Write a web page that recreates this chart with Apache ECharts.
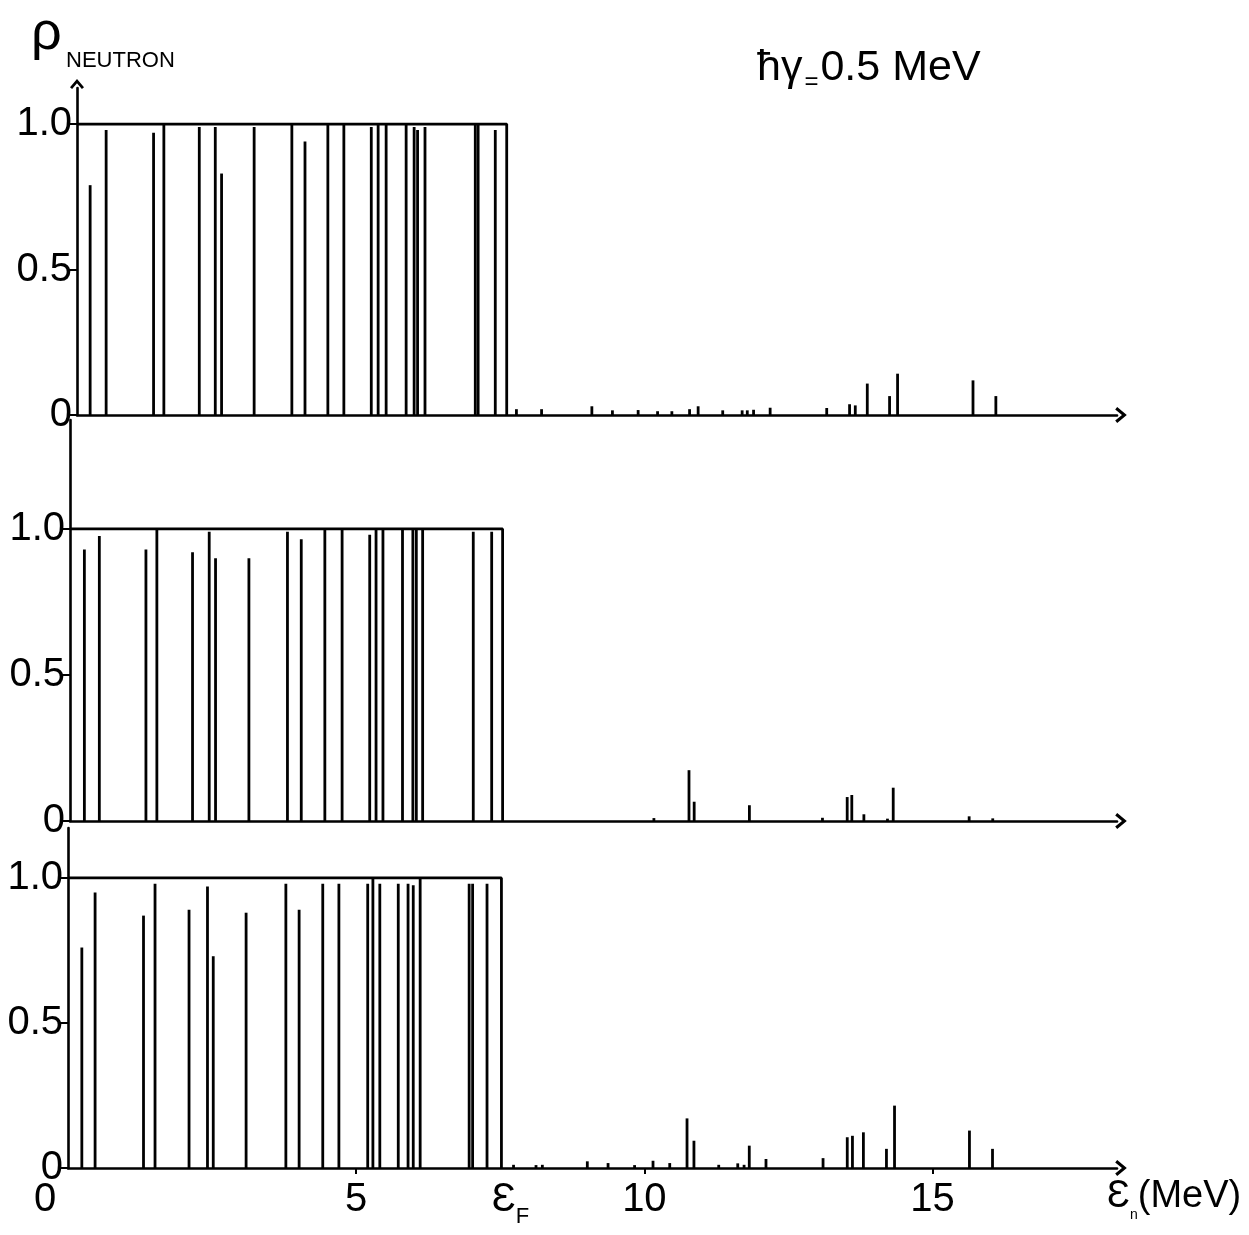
<!DOCTYPE html>
<html><head><meta charset="utf-8">
<script src="https://cdn.jsdelivr.net/npm/echarts@6/dist/echarts.min.js"></script>
<style>html,body{margin:0;padding:0;background:#fff}#c{width:1249px;height:1235px}</style>
</head><body><div id="c"></div>
<script>
// Fermi energy (MeV)
const EF = 7.52;

// Panel 1 (top): level energies (MeV) and occupation rho
const p1Energy = [0.23,0.51,1.34,1.52,2.14,2.42,2.53,3.10,3.76,3.99,4.39,4.67,5.15,5.27,5.41,5.76,5.90,5.96,6.09,6.97,7.02,7.32,
  7.69,8.13,9.01,9.37,9.82,10.16,10.41,10.72,10.87,11.30,11.64,11.73,11.84,12.13,13.12,13.52,13.62,13.83,14.22,14.36,15.68,16.08];
const p1Rho = [0.79,0.98,0.97,1.00,0.99,0.99,0.83,0.99,1.00,0.94,1.00,1.00,0.99,1.00,1.00,1.00,0.99,0.98,0.99,1.00,1.00,0.98,
  0.020,0.020,0.030,0.016,0.017,0.013,0.013,0.020,0.030,0.016,0.016,0.016,0.018,0.025,0.024,0.037,0.033,0.108,0.065,0.142,0.119,0.065];

// Panel 2 (middle)
const p2Energy = [0.25,0.51,1.32,1.51,2.13,2.42,2.53,3.11,3.78,4.02,4.43,4.73,5.21,5.32,5.44,5.78,5.96,6.02,6.13,7.01,7.33,
  10.15,10.76,10.85,11.81,13.08,13.51,13.59,13.80,14.21,14.31,15.63,16.04];
const p2Rho = [0.93,0.976,0.93,1.00,0.92,0.99,0.90,0.90,0.99,0.965,1.00,1.00,0.98,1.00,1.00,1.00,1.00,1.00,1.00,0.99,0.99,
  0.010,0.174,0.066,0.054,0.011,0.082,0.089,0.023,0.008,0.114,0.016,0.009];

// Panel 3 (bottom)
const p3Energy = [0.24,0.47,1.31,1.51,2.10,2.42,2.52,3.09,3.78,4.01,4.42,4.70,5.20,5.29,5.41,5.73,5.90,5.99,6.11,6.96,7.02,7.27,
  7.73,8.12,8.23,9.01,9.37,9.83,10.15,10.44,10.74,10.86,11.29,11.62,11.73,11.82,12.11,13.10,13.52,13.61,13.80,14.20,14.34,15.64,16.04];
const p3Rho = [0.76,0.95,0.87,0.98,0.89,0.97,0.73,0.88,0.98,0.89,0.98,0.98,0.98,1.00,0.98,0.98,0.98,0.975,1.00,0.98,0.98,0.98,
  0.011,0.010,0.011,0.023,0.017,0.010,0.025,0.017,0.171,0.094,0.011,0.016,0.011,0.077,0.031,0.034,0.106,0.111,0.123,0.066,0.215,0.129,0.066];

// Axis ticks / labels
const yTickValues = [0, 0.5, 1.0];
const xTickValues = [5, 10, 15];
const xLabelValues = [0, 5, EF, 10, 15];
const xMax = 18.2;

const FONT = 'Liberation Sans';
const ARROW = 'path://M10,0 L20,12 L17,14.5 L10,6 L3,14.5 L0,12 Z';

const layout = [
  {left: 77, top: 88,  bottom: 820, ymax: 1.124},
  {left: 70, top: 420, bottom: 414, ymax: 1.373},
  {left: 68, top: 828, bottom: 67,  ymax: 1.172}
];
const energies = [p1Energy, p2Energy, p3Energy];
const rhos = [p1Rho, p2Rho, p3Rho];

const T = (size, extra) => Object.assign({fontFamily: FONT, fontSize: size, fontWeight: 'normal', color: '#000'}, extra || {});

const grids = [], xAxes = [], yAxes = [], series = [];
layout.forEach((L, i) => {
  grids.push({left: L.left, right: 132, top: L.top, bottom: L.bottom});
  const last = i === 2;
  xAxes.push({
    type: 'value', gridIndex: i, min: 0, max: xMax,
    splitLine: {show: false},
    axisLine: {show: true, lineStyle: {color: '#000', width: 2.6},
      symbol: ['none', ARROW], symbolSize: [16, 15], symbolOffset: [0, 4]},
    axisTick: last ? {show: true, inside: false, length: 6, customValues: xTickValues,
      lineStyle: {color: '#000', width: 2}} : {show: false},
    axisLabel: last ? {
      show: true, margin: 12, customValues: xLabelValues, color: '#000',
      fontFamily: FONT, fontSize: 40,
      formatter: v => {
        if (v === 0) return '{z|0}';
        if (Math.abs(v - EF) < 1e-6) return '{e|Ɛ}{f|F}';
        return '{n|' + v + '}';
      },
      rich: {
        z: T(40, {padding: [0, 46, 0, 0]}),
        n: T(40),
        e: T(40, {verticalAlign: 'bottom', padding: [0, 0, 8, 18]}),
        f: T(22, {verticalAlign: 'bottom'})
      }
    } : {show: false},
    name: last ? '{e|Ɛ}{s|n}{m|(MeV)}' : '',
    nameLocation: 'end', nameGap: -10,
    nameTextStyle: {
      padding: [64, 0, 0, 0],
      rich: {
        e: T(38, {verticalAlign: 'bottom', padding: [0, 0, 6, 0]}),
        s: T(14, {verticalAlign: 'bottom'}),
        m: T(38, {verticalAlign: 'bottom', padding: [0, 0, 6, 0]})
      }
    }
  });
  yAxes.push({
    type: 'value', gridIndex: i, min: 0, max: L.ymax,
    splitLine: {show: false},
    axisLine: {show: true, onZero: false, lineStyle: {color: '#000', width: 2.6},
      symbol: i === 0 ? ['none', ARROW] : ['none', 'none'], symbolSize: [14, 14], symbolOffset: [0, 4]},
    axisTick: {show: true, length: 8, customValues: yTickValues, lineStyle: {color: '#000', width: 2}},
    axisLabel: {show: true, customValues: yTickValues, margin: 5, color: '#000',
      fontFamily: FONT, fontSize: 40,
      formatter: v => v === 0 ? '0' : v.toFixed(1)}
  });
  // occupation spikes
  series.push({
    type: 'custom', xAxisIndex: i, yAxisIndex: i,
    data: energies[i].map((e, k) => [e, rhos[i][k]]),
    renderItem: (params, api) => {
      const x = api.value(0), h = api.value(1);
      const p0 = api.coord([x, 0]), p1 = api.coord([x, h]);
      return {type: 'line', shape: {x1: p0[0], y1: p0[1], x2: p1[0], y2: p1[1]},
        style: {stroke: '#000', lineWidth: 2.8}};
    },
    silent: true
  });
  // step function of the Fermi sea
  series.push({
    type: 'line', xAxisIndex: i, yAxisIndex: i,
    data: [[0, 1], [EF, 1], [EF, 0]],
    symbol: 'none', lineStyle: {color: '#000', width: 2.8}, silent: true
  });
});

const chart = echarts.init(document.getElementById('c'), null, {renderer: 'canvas'});
chart.setOption({
  animation: false,
  backgroundColor: '#fff',
  title: [
    {text: 'ρ', left: 26, top: 2, textStyle: T(54)},
    {text: 'NEUTRON', left: 61, top: 45, textStyle: T(22)},
    {text: '{a|ħγ}{b|=}{a|0.5 MeV}', left: 752, top: 42,
      textStyle: {rich: {
        a: T(43, {verticalAlign: 'bottom', padding: [0, 0, 4, 0]}),
        b: T(24, {verticalAlign: 'bottom', padding: [0, 2, 0, 2]})
      }}}
  ],
  grid: grids, xAxis: xAxes, yAxis: yAxes, series: series
});
</script>
</body></html>
